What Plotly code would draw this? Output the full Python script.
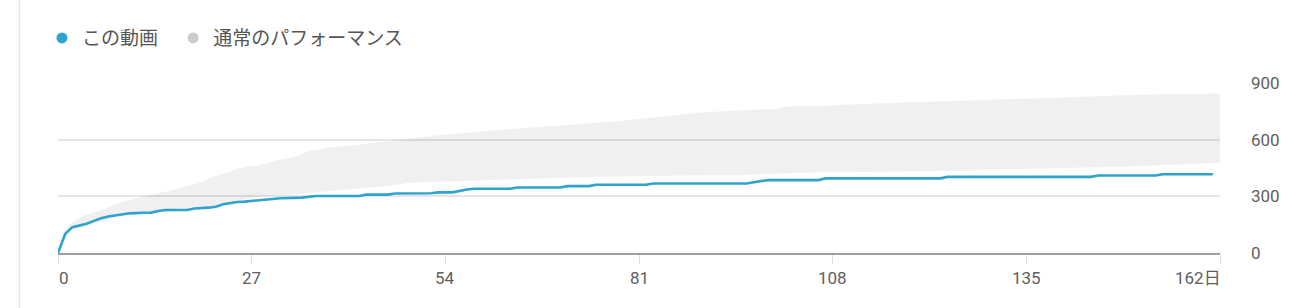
import plotly.graph_objects as go

# ---- data ----
video_days = [0,1,2,3,4,5,6,7,8,9,10,12,13,14,15,18,19,21,22,23,24,25,26,27,28,29,30,31,34,35,
              36,42,43,46,47,52,53,55,56,57,58,63,64,70,71,74,75,82,83,96,97,98,99,106,107,123,
              124,144,145,153,154,161]
video_vals = [0,101,137,147,155,170,184,193,200,205,210,213,214,222,228,228,236,240,245,258,
              266,270,272,276,280,282,287,290,293,298,302,302,309,309,315,316,321,321,330,336,
              340,340,347,347,354,354,361,361,368,368,375,380,386,386,395,395,403,403,410,410,
              417,417]

band_days = [0,1,2,4,6.5,8.5,11,13.5,16,18,20,21.5,24,25,28,31,33,35,38,42,46,49,53,56,59,63,
             67,70,74,78,81,86,90,95,100,102,106,110,117,125,134,142,148,151,162]
band_upper = [0,125,165,205,232,266,293,312,333,354,375,403,430,447,465,495,508,540,558,575,
              593,605,623,632,645,655,666,676,687,698,710,728,745,755,763,777,778,786,795,807,
              816,828,834,838,845]
band_lower = [0,85,120,145,170,195,205,212,220,226,235,245,260,275,300,305,312,319,330,342,
              355,372,377,380,386,390,395,397,402,405,407,410,411,412,418,422,428,428,430,436,
              445,450,456,460,478]

x_ticks = [0, 27, 54, 81, 108, 135, 162]
x_tick_labels = ["0", "27", "54", "81", "108", "135", "162日"]
y_ticks = [0, 300, 600, 900]
series_names = ["この動画", "通常のパフォーマンス"]

BLUE = "#2ea3cc"
LEG_GRAY = "#cccccc"
TXT = "#606060"

fig = go.Figure()

fig.add_trace(go.Scatter(x=band_days, y=band_lower, mode="lines", line=dict(width=0),
                         showlegend=False, hoverinfo="skip"))
fig.add_trace(go.Scatter(x=band_days, y=band_upper, mode="lines", line=dict(width=0),
                         fill="tonexty", fillcolor="rgba(0,0,0,0.06)",
                         showlegend=False, hoverinfo="skip"))
fig.add_trace(go.Scatter(x=video_days, y=video_vals, mode="lines",
                         line=dict(color=BLUE, width=2.6), showlegend=False))

# legend entries
fig.add_trace(go.Scatter(x=[None], y=[None], mode="markers", name=series_names[0],
                         marker=dict(color=BLUE, size=11), legend="legend"))
fig.add_trace(go.Scatter(x=[None], y=[None], mode="markers", name=series_names[1],
                         marker=dict(color=LEG_GRAY, size=11), legend="legend2"))

for i, (v, t) in enumerate(zip(x_ticks, x_tick_labels)):
    anchor = "left" if i == 0 else ("right" if i == len(x_ticks) - 1 else "center")
    shift = 0 if i == 0 else (3 if i == len(x_ticks) - 1 else 0)
    fig.add_annotation(x=v, y=0, xref="x", yref="paper", text=t, showarrow=False,
                       xanchor=anchor, yanchor="middle", yshift=-25, xshift=shift - (0 if i else 1),
                       font=dict(family="Roboto, Noto Sans CJK JP", size=17, color=TXT))

fig.add_shape(type="line", xref="paper", yref="paper", x0=-0.0331, x1=-0.0331, y0=-0.4, y1=1.6,
              line=dict(color="#e6e6e6", width=1.5))

leg_common = dict(orientation="h", y=1.264, xanchor="left", yanchor="middle",
                  font=dict(family="Noto Sans CJK JP", size=19, color="#555555"),
                  itemclick=False, bgcolor="rgba(0,0,0,0)")

fig.update_layout(
    width=1314, height=308,
    margin=dict(l=58, r=94, t=83, b=55, autoexpand=False),
    paper_bgcolor="white", plot_bgcolor="white",
    showlegend=True,
    legend=dict(x=-0.0138, **leg_common),
    legend2=dict(x=0.0991, **leg_common),
    xaxis=dict(range=[0, 162], tickvals=x_ticks, showticklabels=False, ticks="outside",
               ticklen=9, tickcolor="#dddddd", tickwidth=1, showgrid=False, zeroline=False,
               showline=True, linecolor="#9e9e9e", linewidth=2, fixedrange=True),
    yaxis=dict(range=[0, 900], tickvals=y_ticks, side="right", showgrid=True,
               gridcolor="#e6e6e6", gridwidth=1.5, zeroline=False, showline=False,
               ticks="", ticklabelstandoff=30,
               tickfont=dict(family="Roboto", size=17, color=TXT), fixedrange=True),
)

fig.write_html("out.html")
